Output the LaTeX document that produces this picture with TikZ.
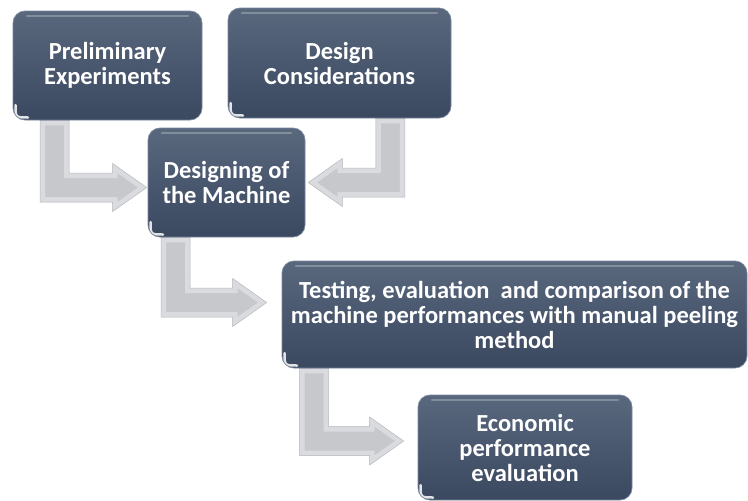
\documentclass[tikz,border=0pt]{standalone}
\usepackage{fontspec}
\setmainfont{Carlito}
\usetikzlibrary{calc,backgrounds}
\definecolor{boxtop}{RGB}{90,104,126}
\definecolor{boxbot}{RGB}{58,72,96}
\definecolor{boxedge}{RGB}{120,136,158}
\definecolor{arrface}{RGB}{199,200,204}
\definecolor{arrband}{RGB}{218,219,222}
\definecolor{arrdark}{RGB}{186,187,192}
\tikzset{
  box/.style={rounded corners=12pt, top color=boxtop, bottom color=boxbot,
    draw=boxedge, line width=0.7pt, text=white, align=center, inner sep=0pt,
    font=\bfseries\fontsize{24.5}{25}\selectfont,
    path picture={
      \draw[white,opacity=0.25,line width=2.5pt,line cap=round]
        ([xshift=14pt,yshift=-5pt]path picture bounding box.north west) --
        ([xshift=-14pt,yshift=-5pt]path picture bounding box.north east);
      \draw[white,opacity=0.85,line width=2.5pt,line cap=round]
        ([xshift=2.5pt,yshift=15pt]path picture bounding box.south west) .. controls
        ([xshift=2.5pt,yshift=2.5pt]path picture bounding box.south west) ..
        ([xshift=15pt,yshift=2.5pt]path picture bounding box.south west);
    }},
  arrfill/.style={fill=arrface},
  arrbev/.style={draw=arrband, line width=10pt, line join=miter},
  arrline/.style={draw=arrdark, line width=0.5pt, line join=miter}
}
\newcommand\bapath{(ba-p1) -- (ba-p2) -- (ba-p2 |- ba-hA) -- (ba-hA) -- (ba-hB) -- (ba-t) -- (ba-hC) -- (ba-hD) -- (ba-p1 |- ba-hD) -- cycle}
\newcommand\bentarrow[3]{%
  \coordinate (ba-s) at #1;
  \coordinate (ba-t) at #2;
  \coordinate (ba-p1) at ($(ba-s)+({-(#3)*14.5},0)$);
  \coordinate (ba-p2) at ($(ba-s)+({(#3)*14.5},0)$);
  \coordinate (ba-hA) at ($(ba-t)+({-(#3)*34},-14.5)$);
  \coordinate (ba-hB) at ($(ba-t)+({-(#3)*34},-24)$);
  \coordinate (ba-hC) at ($(ba-t)+({-(#3)*34},24)$);
  \coordinate (ba-hD) at ($(ba-t)+({-(#3)*34},14.5)$);
  \begin{scope}
    \clip \bapath;
    \fill[arrfill] \bapath;
    \draw[arrbev] \bapath;
  \end{scope}
  \draw[arrline] \bapath;
}
\begin{document}
\begin{tikzpicture}[x=1pt,y=-1pt]
\useasboundingbox (0,0) rectangle (748,501);
\node[box, minimum width=189pt, minimum height=109pt] (b1) at (107.5,65.5) {Preliminary\\Experiments};
\node[box, minimum width=223pt, minimum height=110pt] (b2) at (339.5,63) {Design\\Considerations};
\node[box, minimum width=157pt, minimum height=109pt] (b3) at (226.5,182.5) {Designing of\\the Machine};
\node[box, minimum width=465pt, minimum height=107pt] (b4) at (514.5,314.5) {Testing, evaluation~ and comparison of the\\machine performances with manual peeling\\method};
\node[box, minimum width=214pt, minimum height=105pt] (b5) at (525,447.5) {Economic\\performance\\evaluation};
\begin{scope}[on background layer]
  \fill[white] (0,0) rectangle (748,501);
  \bentarrow{($(b1.south west)+(42,0)$)}{($(b3.west)+(-1,5)$)}{1}
  \bentarrow{($(b2.south east)+(-61,0)$)}{($(b3.east)+(3,0)$)}{-1}
  \bentarrow{($(b3.south west)+(28,0)$)}{($(b4.west)+(-15,-12)$)}{1}
  \bentarrow{($(b4.south west)+(32.5,0)$)}{($(b5.west)+(-14,-6.5)$)}{1}
\end{scope}
\end{tikzpicture}
\end{document}
